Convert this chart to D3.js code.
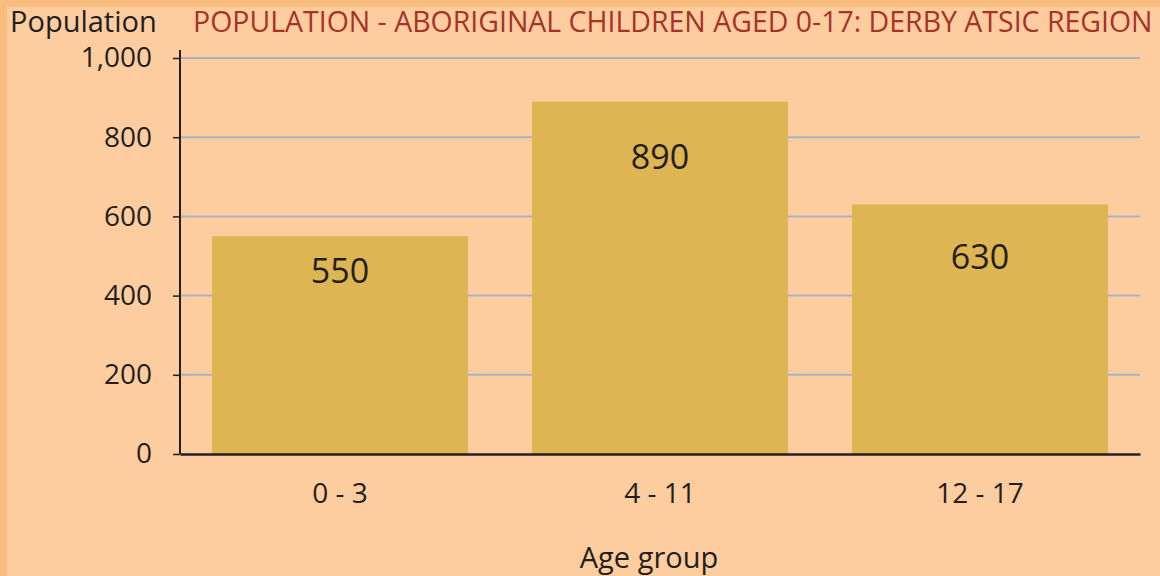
<!DOCTYPE html>
<html>
<head>
<meta charset="utf-8">
<script src="https://cdn.jsdelivr.net/npm/d3@7"></script>
<style>
  body { margin: 0; background: #fdcd9f; }
  svg { display: block; font-family: "Open Sans", "Noto Sans", sans-serif; }
</style>
</head>
<body>
<div class="chart"></div>
<script>
const ageGroups = ["0 - 3", "4 - 11", "12 - 17"];
const population = [550, 890, 630];
const yTicks = [0, 200, 400, 600, 800, 1000];

const totalWidth = 1160,
  totalHeight = 576;
const margin = { top: 58, left: 180, right: 20, bottom: 122 };
const width = totalWidth - margin.left - margin.right,
  height = totalHeight - margin.top - margin.bottom;

//how far below each bar top its label sits (layout only)
const labelOffsets = [47, 67, 64];

const data = ageGroups.map((g, i) => ({ group: g, value: population[i], off: labelOffsets[i] }));

const svg = d3
  .select(".chart")
  .append("svg")
  .attr("width", totalWidth)
  .attr("height", totalHeight);

//background with darker orange edges
svg.append("rect").attr("width", totalWidth).attr("height", totalHeight).attr("fill", "#f9be7d");
svg
  .append("rect")
  .attr("x", 7)
  .attr("y", 7)
  .attr("width", totalWidth - 7)
  .attr("height", totalHeight - 7)
  .attr("fill", "#fdcd9f");

const xScale = d3
  .scaleBand()
  .domain(ageGroups)
  .range([0, width])
  .paddingInner(0.2)
  .paddingOuter(0.1);

const yScale = d3.scaleLinear().domain([0, 1000]).range([height, 0]);

const chartGroup = svg
  .append("g")
  .attr("transform", `translate(${margin.left}, ${margin.top})`);

//grid lines
chartGroup
  .selectAll(".grid")
  .data(yTicks.filter((t) => t > 0))
  .enter()
  .append("line")
  .attr("x1", 0)
  .attr("x2", width)
  .attr("y1", (d) => yScale(d))
  .attr("y2", (d) => yScale(d))
  .attr("stroke", "#a9b3c0")
  .attr("stroke-width", 2);

//bars
chartGroup
  .selectAll(".bar")
  .data(data)
  .enter()
  .append("rect")
  .attr("x", (d) => xScale(d.group))
  .attr("y", (d) => yScale(d.value))
  .attr("width", xScale.bandwidth())
  .attr("height", (d) => height - yScale(d.value))
  .attr("fill", "#ddb552");

//value labels
chartGroup
  .selectAll(".val")
  .data(data)
  .enter()
  .append("text")
  .attr("x", (d) => xScale(d.group) + xScale.bandwidth() / 2)
  .attr("y", (d) => yScale(d.value) + d.off)
  .attr("text-anchor", "middle")
  .attr("font-size", 34)
  .attr("fill", "#231f20")
  .text((d) => d.value);

//y axis
const yAxis = d3
  .axisLeft(yScale)
  .tickValues(yTicks)
  .tickSize(7)
  .tickPadding(21)
  .tickFormat(d3.format(","));
const yg = chartGroup.append("g").call(yAxis).attr("font-family", null).attr("font-size", 28);
yg.select(".domain").attr("d", `M0,-8V${height}`).attr("stroke", "#231f20").attr("stroke-width", 2);
yg.selectAll(".tick line").attr("stroke", "#231f20").attr("stroke-width", 1.5);
yg.selectAll(".tick text").attr("fill", "#231f20");

//x axis
const xAxis = d3.axisBottom(xScale).tickSize(0).tickPadding(29);
const xg = chartGroup
  .append("g")
  .attr("transform", `translate(0, ${height})`)
  .call(xAxis)
  .attr("font-family", null)
  .attr("font-size", 28);
xg.select(".domain").attr("stroke", "#231f20").attr("stroke-width", 2.5);
xg.selectAll(".tick text").attr("fill", "#231f20");

//axis titles
svg
  .append("text")
  .attr("x", 10)
  .attr("y", 32)
  .attr("font-size", 29)
  .attr("fill", "#231f20")
  .text("Population");

svg
  .append("text")
  .attr("x", 649)
  .attr("y", 568)
  .attr("text-anchor", "middle")
  .attr("font-size", 29)
  .attr("fill", "#231f20")
  .text("Age group");

//chart title, shrunk so it fits between x=193 and the right edge
const title = svg
  .append("text")
  .attr("x", 193)
  .attr("y", 32)
  .attr("font-size", 29)
  .attr("fill", "#a83228")
  .text("POPULATION - ABORIGINAL CHILDREN AGED 0-17: DERBY ATSIC REGION");
const natural = title.node().getComputedTextLength();
if (natural > 960) title.attr("font-size", (29 * 960) / natural);
</script>
</body>
</html>
